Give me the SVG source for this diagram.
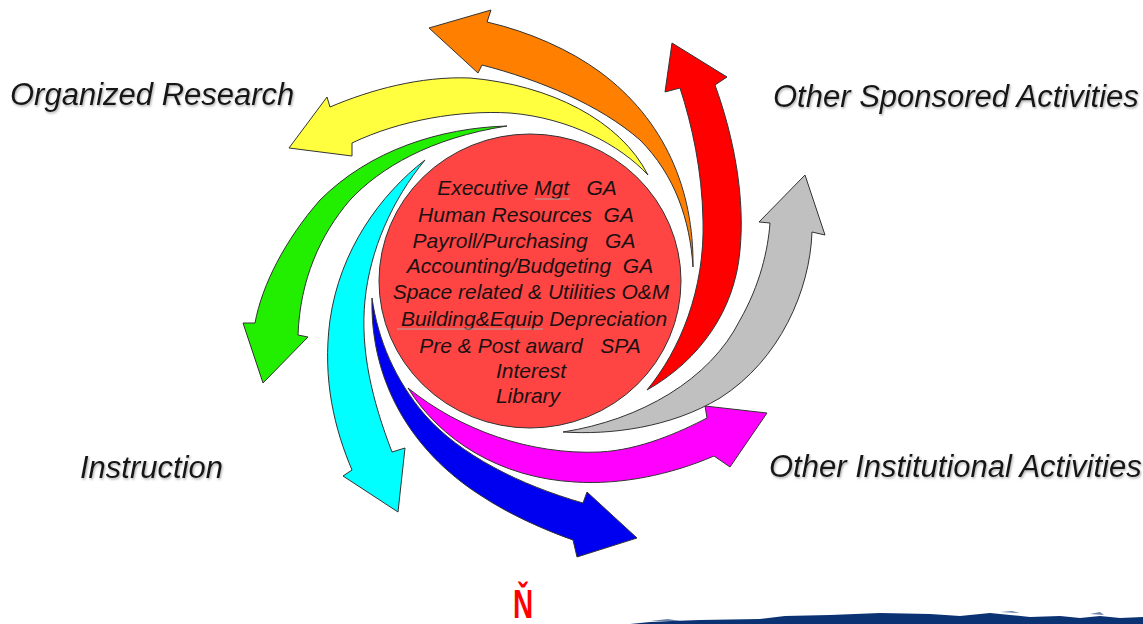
<svg xmlns="http://www.w3.org/2000/svg" width="1143" height="624" viewBox="0 0 1143 624">
<defs>
<style>
.arr{stroke:#333;stroke-width:1;stroke-linejoin:miter}
.lbl{font-family:"Liberation Sans",Arial,sans-serif;font-style:italic;font-size:31px;fill:#151515;filter:url(#sh)}
.ct{font-family:"Liberation Sans",Arial,sans-serif;font-style:italic;font-size:21px;fill:#1a1010;text-anchor:middle;white-space:pre}
.ul{stroke:#b0a8a0;stroke-width:1}
</style>
<filter id="sh" x="-5%" y="-30%" width="110%" height="160%">
<feDropShadow dx="1" dy="1.5" stdDeviation="1" flood-color="#777" flood-opacity="0.6"/>
</filter>
</defs>
<rect width="1143" height="624" fill="#fff"/>

<g id="arrows">
<path id="arrow-orange" class="arr" fill="#FF8000" d="M693,267 C694,190 665,120 600,72 C570,50 530,32 487,22 L491,10 L429,28 L478,73 L482,65 C540,80 600,105 640,140 C675,175 690,220 693,267 Z"/>
<path id="arrow-yellow" class="arr" fill="#FFFF40" d="M648,175 C620,120 550,85 470,78 C420,76 370,90 330,107 L327,97 L289,148 L352,156 L352,143 C400,120 460,110 510,113 C570,118 620,145 648,175 Z"/>
<path id="arrow-green" class="arr" fill="#22EE00" d="M507,126 C440,128 370,150 320,200 C285,240 262,285 255,323 L243,323 L263,383 L308,337 L298,335 C300,280 320,235 350,200 C380,168 430,138 507,126 Z"/>
<path id="arrow-cyan" class="arr" fill="#00FFFF" d="M425,160 C380,195 340,250 330,320 C322,380 335,430 352,470 L343,476 L398,512 L405,448 L392,452 C372,400 360,350 365,300 C370,250 392,200 425,160 Z"/>
<path id="arrow-blue" class="arr" fill="#0000F0" d="M372,298 C370,380 410,450 480,495 C510,515 545,530 573,540 L577,557 L637,538 L587,492 L583,503 C520,485 460,455 425,415 C395,380 378,340 372,298 Z"/>
<path id="arrow-magenta" class="arr" fill="#FF00FF" d="M408,388 C460,430 530,455 600,452 C640,450 680,432 707,418 L705,406 L767,413 L730,467 L714,456 C670,475 620,485 575,482 C500,478 440,440 408,388 Z"/>
<path id="arrow-gray" class="arr" fill="#C0C0C0" d="M563,432 C640,420 710,380 740,320 C760,285 768,250 770,223 L759,222 L805,175 L825,235 L812,232 C810,290 780,360 720,398 C670,428 610,435 563,432 Z"/>
<path id="arrow-red" class="arr" fill="#FF0000" d="M647,390 C680,350 705,290 703,220 C702,170 692,125 680,88 L665,92 L672,43 L727,77 L715,85 C735,140 745,200 740,250 C735,310 700,360 647,390 Z"/>
</g>

<g id="center">
<ellipse cx="530" cy="281" rx="151" ry="147" fill="#FF4444" stroke="#333" stroke-width="1"/>
<text class="ct" x="527" y="195" xml:space="preserve">Executive Mgt   GA</text>
<text class="ct" x="526" y="222" xml:space="preserve">Human Resources  GA</text>
<text class="ct" x="524" y="248" xml:space="preserve">Payroll/Purchasing   GA</text>
<text class="ct" x="530" y="273" xml:space="preserve">Accounting/Budgeting  GA</text>
<text class="ct" x="531" y="299">Space related &amp; Utilities O&amp;M</text>
<text class="ct" x="534" y="326">Building&amp;Equip Depreciation</text>
<text class="ct" x="530" y="353" xml:space="preserve">Pre &amp; Post award   SPA</text>
<text class="ct" x="531" y="378">Interest</text>
<text class="ct" x="528" y="403">Library</text>
<line class="ul" x1="535" y1="199" x2="570" y2="199"/>
<line class="ul" x1="397" y1="329" x2="543" y2="329"/>
</g>

<g id="label-organized-research"><text class="lbl" x="10" y="105">Organized Research</text></g>
<g id="label-other-sponsored"><text class="lbl" x="773" y="107">Other Sponsored Activities</text></g>
<g id="label-instruction"><text class="lbl" x="80" y="478">Instruction</text></g>
<g id="label-other-institutional"><text class="lbl" x="769" y="477">Other Institutional Activities</text></g>

<g id="footer">
<text x="0" y="0" transform="translate(513,618) scale(0.7,1)" font-family="'Liberation Sans',Arial,sans-serif" font-weight="bold" font-size="40" fill="#FF0000">Ň</text>
<path fill="#0B3272" d="M630,624 L650,622 L672,621 L700,620 L760,619 L785,616 L830,615 L880,613 L930,614 L960,616 L990,613 L1010,615 L1030,617 L1060,616 L1080,618 L1100,616 L1120,618 L1143,617 L1143,624 Z"/>
<path fill="#0B3272" opacity="0.6" d="M650,621 L668,619 L680,621 Z M1000,612 L1012,611 L1020,613 Z M1090,614 L1100,612 L1104,615 Z"/>
</g>
</svg>
